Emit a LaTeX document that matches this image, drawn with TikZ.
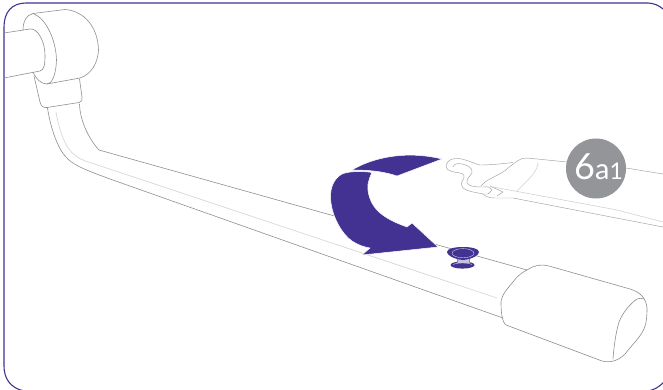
\documentclass[tikz,border=0pt]{standalone}
\usepackage{fontspec}
\newfontfamily\badgefont{Lato}
\definecolor{pur}{HTML}{433292}
\definecolor{ln}{HTML}{8F8F93}
\definecolor{lt}{HTML}{D2D2D4}
\definecolor{badge}{HTML}{939598}
\tikzset{
 outline/.style={draw=ln,line width=0.6pt,line join=round,line cap=round},
 strapline/.style={draw=ln!85,line width=0.45pt,line join=round,line cap=round},
 inner/.style={draw=lt,line width=0.6pt,line join=round,line cap=round},
 arrowfill/.style={fill=pur,draw=white,line width=0.5pt},
}
\begin{document}
\begin{tikzpicture}[x=1pt,y=-1pt]
\useasboundingbox (0,0) rectangle (663,390);
\fill[white] (0,0) rectangle (663,390);
% frame
\draw[pur,line width=1.1pt] (648,3) .. controls (660,3.5) and (668,12) .. (672,22);
\draw[pur,line width=1.1pt] (648,3) -- (26,3) .. controls (12,3) and (4,12) .. (4,27) -- (4,366) .. controls (4,378) and (10,388) .. (24,391);
\draw[pur,line width=1.1pt] (648,391) .. controls (654,390) and (659,387) .. (664,382);
% holder
\draw[outline] (4,33) -- (30,29) .. controls (38,28) and (45,42) .. (45,55) .. controls (45,65) and (44,70) .. (40,71) -- (4,78);
\draw[outline] (33,13.5) -- (65,9.5) .. controls (85,11) and (98,28) .. (98.5,50) .. controls (98,62) and (92,74) .. (80,78) -- (47,84);
\draw[outline] (33,13.5) .. controls (26,15) and (23,22) .. (23,30);
\draw[outline] (33,13.5) .. controls (46,18) and (56,40) .. (56.5,60) .. controls (56,75) and (52,84) .. (47,84) .. controls (41,84) and (36,79) .. (33,72);
% collar
\draw[outline] (34,76) -- (40,102) .. controls (41,106) and (43,108) .. (47,107.5) -- (79,102.5) .. controls (82,102) and (82.5,100) .. (82,97) -- (79.5,79);
% stem and arm
\draw[outline] (47.5,108) .. controls (50,125) and (57,148) .. (66,157) .. controls (72,164) and (80,168) .. (110,179) -- (503,318);
\draw[outline] (79.5,104) .. controls (80,120) and (88,138) .. (99,150) -- (527,270);
\draw[inner] (56,112) .. controls (59,130) and (66,150) .. (75,155) .. controls (78,158) and (82,160) .. (90,162.5) -- (497,298);
% hand grip
\draw[outline] (527,270) .. controls (535,265) and (540,264) .. (549,266) -- (630,289) .. controls (640,292) and (646,298) .. (647,308) .. controls (647,318) and (646,326) .. (643,331) .. controls (640,337) and (632,345) .. (625,354) .. controls (618,361) and (610,363) .. (602,361) -- (506,325) .. controls (502,322) and (501,312) .. (501,302) .. controls (502,294) and (508,288) .. (513,282) .. controls (518,275) and (523,272) .. (527,270);
\draw[outline] (613,359) .. controls (614,345) and (616,332) .. (619,322) .. controls (623,312) and (630,304) .. (637,299) .. controls (640,298) and (642,298) .. (644,299);
% strap
\draw[strapline] (527,158) -- (567,162);
\draw[strapline] (626,168) -- (663,174);
\draw[strapline] (527,158) .. controls (520,157.5) and (516,162) .. (508,168) .. controls (502,174) and (492,177) .. (485,182) -- (481,186);
\draw[strapline] (513,162.5) .. controls (500,164) and (490,165) .. (480,165) .. controls (472,163) and (464,158) .. (455,158.5) .. controls (449,159) and (446,163) .. (446,167) .. controls (447,171) and (453,172) .. (460,173) .. controls (464,174) and (465,176) .. (464,178) .. controls (462,181) and (460,184) .. (463,188) .. controls (468,192) and (475,192) .. (483,194) .. controls (486,197) and (490,198) .. (495,198) -- (513,198) -- (580,211) -- (663,227);
\draw[strapline] (453,167) .. controls (454,164) and (457,163) .. (462,164) .. controls (468,165) and (473,168) .. (472,173) .. controls (470,176) and (466,179) .. (467,183) .. controls (470,187) and (476,187) .. (483,187) .. controls (488,186) and (491,188) .. (492,190) -- (488,194) -- (483,194);
\draw[strapline] (490,186) -- (503,192) -- (497,196) ;
\draw[inner] (493,187) -- (547,197) -- (617,210) -- (663,222);
\draw[inner] (538,163) .. controls (537,172) and (530,178) .. (517,191);
% arrow
\path[arrowfill] (352,170) .. controls (372,158) and (405,150) .. (442,159) -- (397,176) .. controls (388,173) and (376,170) .. (352,170) -- cycle;
\path[arrowfill] (372,172.5) .. controls (362,171) and (350,171) .. (342,174) .. controls (333,179) and (329,190) .. (331,203) .. controls (333,218) and (342,234) .. (352,241) .. controls (358,245) and (364,247) .. (370,248) -- (362,255) -- (438,247) -- (412,223) -- (407,227) .. controls (396,223) and (384,218) .. (376,209) .. controls (370,202) and (367,192) .. (368,184) .. controls (369,180) and (370,176) .. (372,172.5) -- cycle;
% button
\fill[pur] (462.5,265) ellipse[x radius=12,y radius=3.6];
\fill[pur!30] (457,258) rectangle (470,262.5);
\draw[pur!70,line width=0.6pt] (457,258) .. controls (458,260) and (458,262) .. (457,263);
\draw[pur!70,line width=0.6pt] (470,258) .. controls (469,260) and (469,262) .. (470,263);
\draw[pur!25,line width=0.4pt] (453,264.5) .. controls (457,262.5) and (468,262.5) .. (472,264.5);
\fill[pur] (447,252) .. controls (447,248.5) and (455,247) .. (463,247) .. controls (471,247) and (479,248.5) .. (479,252) .. controls (479,255) and (473,259) .. (463,260) .. controls (453,259) and (447,255) .. (447,252) -- cycle;
\draw[pur!25,line width=0.4pt] (463,253.2) ellipse[x radius=11,y radius=4.6];
% badge
\node[circle,fill=badge,minimum size=60pt,inner sep=0pt,draw=none] (b) at (596,168.5) {};
\node[text=white,inner sep=0pt,anchor=base west] (bt) at (574,179.5) {\badgefont\fontsize{36}{36}\selectfont 6\fontsize{29}{29}\selectfont a\fontsize{23}{23}\selectfont 1};
\end{tikzpicture}
\end{document}
